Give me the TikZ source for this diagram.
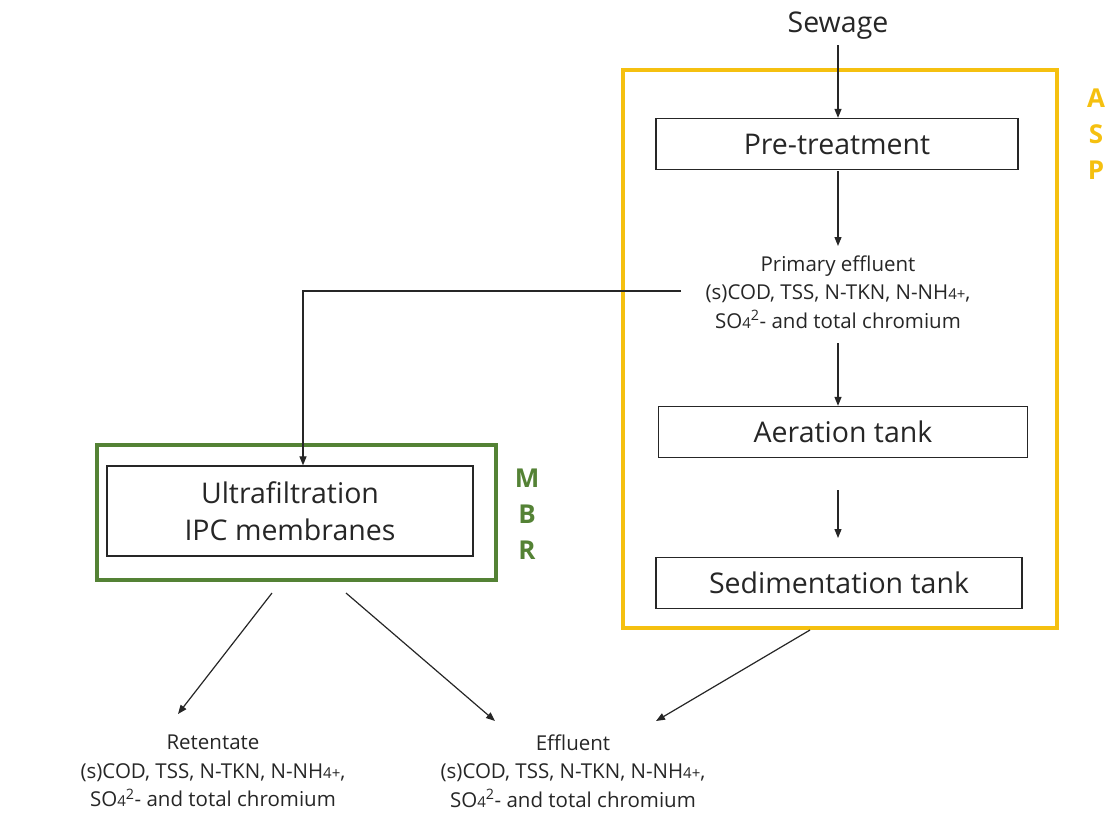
\documentclass[tikz,border=0pt]{standalone}
\usepackage{fontspec}
\setmainfont{Open Sans}
\usetikzlibrary{arrows.meta}
\definecolor{aspY}{HTML}{F5C010}
\definecolor{mbrG}{HTML}{548235}
\newcommand\sm[1]{{\fontsize{15}{15}\selectfont #1}}
\tikzset{
  every node/.style={font=\fontsize{28.5}{28.5}\selectfont, text=black!85},
  proc/.style={draw=black!85, line width=1.3pt, minimum height=51pt, inner sep=0pt},
  lbl/.style={align=center, font=\fontsize{20.5}{28.5}\selectfont},
  arr/.style={draw=black!85, line width=1.2pt, -{Triangle[length=9pt,width=7pt]}},
  frame/.style={line width=3.2pt},
  side/.style={font=\fontsize{26}{36}\selectfont\bfseries, align=center}
}
\begin{document}
\begin{tikzpicture}[x=1pt,y=-1pt]
\useasboundingbox (0,0) rectangle (1107,812);
% frames
\draw[frame, draw=aspY] (623,70) rectangle (1057,628);
\node[side, text=aspY] (asp) at (1096,134) {A\\S\\P};
\draw[frame, draw=mbrG] (97,445) rectangle (496,580);
\node[side, text=mbrG] (mbr) at (527,514) {M\\B\\R};
% nodes
\node (sew) at (838,26) {Sewage};
\node[proc, minimum width=362pt] (pre) at (837,144) {Pre-treatment};
\node[lbl] (prim) at (838,292) {Primary effluent\\(s)COD, TSS, N-TKN, N-NH\sm{4+},\\SO\sm{4}\textsuperscript{2}- and total chromium};
\node[proc, minimum width=369pt] (aer) at (843,432) {Aeration tank};
\node[proc, minimum width=366pt] (sed) at (839,583) {Sedimentation tank};
\node[proc, minimum width=366pt, minimum height=90pt, align=center, font=\fontsize{28.5}{37}\selectfont] (uf) at (290,511) {Ultrafiltration\\IPC membranes};
\node[lbl] (ret) at (213,771) {Retentate\\(s)COD, TSS, N-TKN, N-NH\sm{4+},\\SO\sm{4}\textsuperscript{2}- and total chromium};
\node[lbl] (eff) at (573,771) {Effluent\\(s)COD, TSS, N-TKN, N-NH\sm{4+},\\SO\sm{4}\textsuperscript{2}- and total chromium};
% coordinates
\coordinate (s0) at (838,45);
\coordinate (p0) at (838,171);
\coordinate (p1) at (838,246);
\coordinate (q0) at (838,343);
\coordinate (a0) at (838,490);
\coordinate (a1) at (838,538);
\coordinate (h0) at (681,291);
\coordinate (h1) at (303,291);
\coordinate (r0) at (272,593);
\coordinate (r1) at (178,714);
\coordinate (e0) at (346,593);
\coordinate (e1) at (495,721);
\coordinate (d0) at (810,630);
\coordinate (d1) at (656,721);
% connectors
\draw[arr] (s0) -- (pre.north -| s0);
\draw[arr] (p0) -- (p1);
\draw[arr] (q0) -- (aer.north -| q0);
\draw[arr] (a0) -- (a1);
\draw[arr] (h0) -- (h1) -- (uf.north -| h1);
\draw[arr] (r0) -- (r1);
\draw[arr] (e0) -- (e1);
\draw[arr] (d0) -- (d1);
\end{tikzpicture}
\end{document}
